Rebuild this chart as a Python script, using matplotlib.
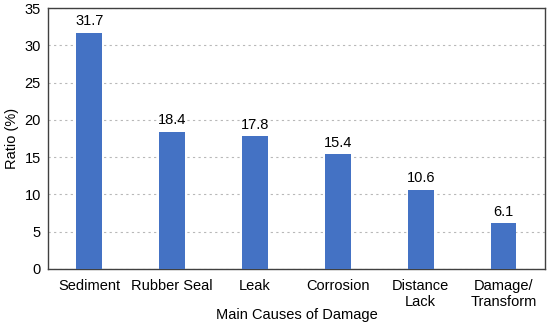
import matplotlib.pyplot as plt
import numpy as np

plt.rcParams['font.family'] = ['Liberation Sans', 'DejaVu Sans']

causes = ['Sediment', 'Rubber Seal', 'Leak', 'Corrosion', 'Distance\nLack', 'Damage/\nTransform']
ratios = [31.7, 18.4, 17.8, 15.4, 10.6, 6.1]
yticks = [0, 5, 10, 15, 20, 25, 30, 35]

fig, ax = plt.subplots(figsize=(5.5, 3.26), dpi=100)
fig.subplots_adjust(left=0.087, right=0.991, top=0.975, bottom=0.175)

x = np.arange(len(causes))
bars = ax.bar(x, ratios, width=0.31, color='#4472C4', zorder=3)
for xi, v in zip(x, ratios):
    ax.text(xi, v + 0.6, f'{v}', ha='center', va='bottom', fontsize=10.5)

ax.set_xlim(-0.5, len(causes) - 0.5)
ax.set_ylim(0, 35)
ax.set_yticks(yticks)
ax.set_xticks(x)
ax.set_xticklabels(causes, fontsize=10.5)
ax.tick_params(axis='y', labelsize=10.5, length=0, pad=5)
ax.tick_params(axis='x', length=0, pad=7)
ax.yaxis.grid(True, linestyle=(0, (2, 3)), color='#b8b8b8', linewidth=0.8, zorder=0)
for s in ax.spines.values():
    s.set_color('#404040')
    s.set_linewidth(1.0)

ax.set_xlabel('Main Causes of Damage', fontsize=10.5, va='center')
ax.xaxis.set_label_coords(0.5, -0.175)
ax.set_ylabel('Ratio (%)', fontsize=10.5)

plt.savefig('out.png')
